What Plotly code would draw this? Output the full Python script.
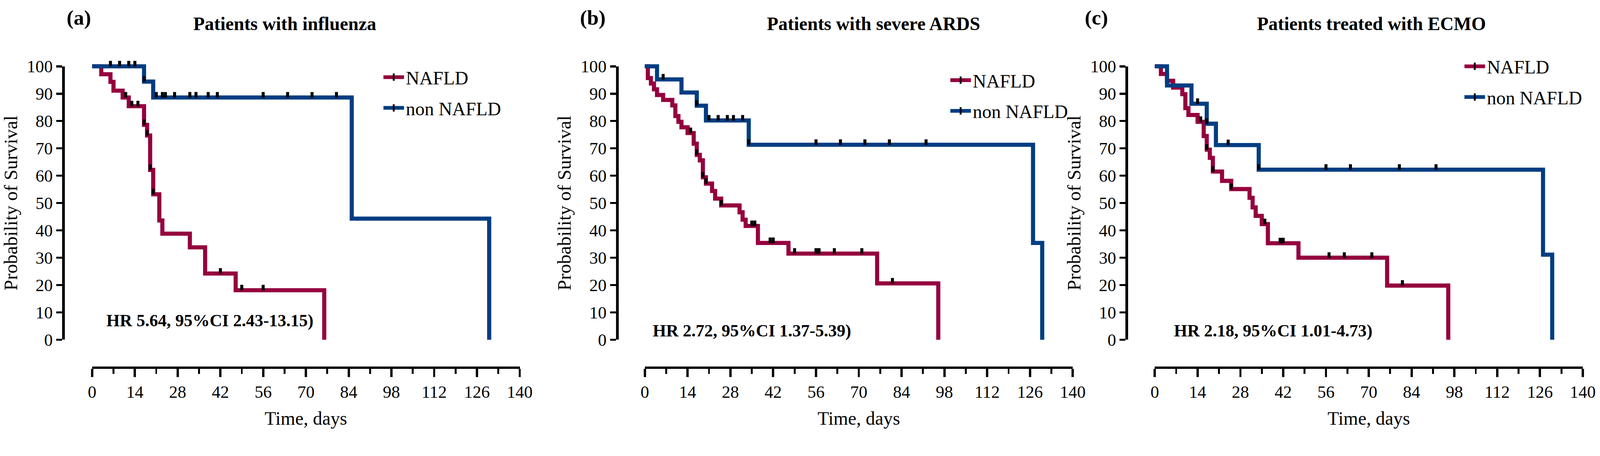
import plotly.graph_objects as go

W, H = 4273, 1167

# ---------------- data ----------------
X_TICKS = [0, 14, 28, 42, 56, 70, 84, 98, 112, 126, 140]
Y_TICKS = [0, 10, 20, 30, 40, 50, 60, 70, 80, 90, 100]
GROUPS = ["NAFLD", "non NAFLD"]
PANEL_LABELS = ["(a)", "(b)", "(c)"]
PANEL_TITLES = ["Patients with influenza", "Patients with severe ARDS", "Patients treated with ECMO"]
HR_TEXTS = ["HR 5.64, 95%CI 2.43-13.15)", "HR 2.72, 95%CI 1.37-5.39)", "HR 2.18, 95%CI 1.01-4.73)"]

# (a) influenza
A_NAFLD_T = [0, 3, 6, 7, 10, 12, 17, 18, 19, 20, 22, 23, 32, 37, 47, 76]
A_NAFLD_S = [100, 97.1, 94.3, 91.1, 88.6, 85.4, 78.6, 74.7, 62.1, 53.2, 43.6, 38.8, 33.8, 24.2, 18.1, 0]
A_NAFLD_C = [11, 13, 15, 17, 18, 19, 20, 42, 49, 56]
A_NON_T = [0, 17, 20, 85, 130]
A_NON_S = [100, 94.4, 88.6, 44.3, 0]
A_NON_C = [6, 9, 12, 14, 17, 21, 23, 24, 27, 32, 34, 38, 41, 56, 64, 72, 80]

# (b) severe ARDS
B_NAFLD_T = [0, 1, 2, 3, 4, 6, 9, 10, 11, 12, 14, 16, 17, 18, 19, 20, 22, 23, 25, 31, 32, 33, 37, 47, 76, 96]
B_NAFLD_S = [100, 95.7, 93.7, 91.6, 89.5, 87.7, 85.7, 81.8, 79.7, 77.7, 75.6, 71.7, 67.6, 65.6, 59.4, 57.1,
             54.4, 51.6, 49.1, 46.6, 43.9, 41.6, 35.4, 31.5, 20.6, 0]
B_NAFLD_C = [15, 17, 19, 20, 25, 35, 36, 41, 42, 49, 56, 57, 62, 71, 81]
B_NON_T = [0, 4, 12, 17, 20, 34, 127, 130]
B_NON_S = [100, 95.2, 90.4, 85.6, 80.2, 71.3, 35.4, 0]
B_NON_C = [6, 17, 21, 24, 27, 29, 32, 34, 56, 64, 72, 80, 92]

# (c) ECMO
C_NAFLD_T = [0, 2, 4, 6, 9, 10, 11, 14, 16, 17, 18, 19, 22, 25, 31, 32, 33, 35, 37, 47, 76, 96]
C_NAFLD_S = [100, 97.2, 94.7, 92.2, 89.8, 84.7, 82.2, 79.7, 74.5, 69.5, 66.5, 61.5, 58.1, 55.1, 51.9,
             48.4, 45.3, 42.3, 35.3, 30.0, 19.8, 0]
C_NAFLD_C = [15, 17, 19, 25, 36, 41, 42, 57, 62, 71, 81]
C_NON_T = [0, 4, 12, 17, 20, 34, 127, 130]
C_NON_S = [100, 93.0, 86.3, 79.0, 71.2, 62.2, 31.1, 0]
C_NON_C = [14, 17, 24, 34, 56, 64, 80, 92]

PANELS = [
    ((A_NAFLD_T, A_NAFLD_S, A_NAFLD_C), (A_NON_T, A_NON_S, A_NON_C)),
    ((B_NAFLD_T, B_NAFLD_S, B_NAFLD_C), (B_NON_T, B_NON_S, B_NON_C)),
    ((C_NAFLD_T, C_NAFLD_S, C_NAFLD_C), (C_NON_T, C_NON_S, C_NON_C)),
]

# ---------------- styling / geometry ----------------
COLORS = ["#95003E", "#003D82"]
FONT = "Liberation Serif"
Y0_PX, Y100_PX, XAXIS_PX = 907.0, 177.0, 982.0
PPU = (Y0_PX - Y100_PX) / 100.0
GEOM = [  # y-axis line px, x=0 px, x=140 px
    (169, 246, 1388),
    (1648, 1722, 2865),
    (3009, 3084, 4227),
]
LEGEND_POS = [(1019, 167), (2533, 175), (3906, 138)]
TITLE_X = [760, 2333, 3662]
LABEL_X = [210, 1583, 2928]
HR_POS = [(4.4, 7.1), (2.3, 3.4), (6.0, 3.4)]


def step_value(ts, ss, t):
    v = ss[0]
    for ti, si in zip(ts, ss):
        if ti <= t:
            v = si
    return v


fig = go.Figure()
layout = dict(
    width=W, height=H, autosize=False,
    margin=dict(l=0, r=0, t=0, b=0, pad=0, autoexpand=False),
    paper_bgcolor="white", plot_bgcolor="rgba(0,0,0,0)",
    font=dict(family=FONT, color="black"),
    showlegend=True, annotations=[],
)

censor_offset = 7.0 / PPU

for p, (groups, (yl, x0, x140)) in enumerate(zip(PANELS, GEOM)):
    k = p + 1
    kv = p + 4
    ppd = (x140 - x0) / 140.0
    # data subplot (hidden axes, extended so thick lines are not clipped)
    left_px, right_px = yl, x140 + 15
    top_px, bot_px = 160, 925
    layout[f"xaxis{k}"] = dict(
        domain=[left_px / W, right_px / W],
        range=[(left_px - x0) / ppd, (right_px - x0) / ppd],
        visible=False, anchor=f"y{k}", fixedrange=True, automargin=False)
    layout[f"yaxis{k}"] = dict(
        domain=[1 - bot_px / H, 1 - top_px / H],
        range=[(Y0_PX - bot_px) / PPU, (Y0_PX - top_px) / PPU],
        visible=False, anchor=f"x{k}", fixedrange=True, automargin=False)
    # visible axes
    layout[f"xaxis{kv}"] = dict(
        domain=[x0 / W, x140 / W], range=[0, 140], anchor="free", position=1 - XAXIS_PX / H,
        tickmode="array", tickvals=X_TICKS, ticktext=[str(v) for v in X_TICKS],
        showline=True, linecolor="black", linewidth=6, ticks="outside", ticklen=22, tickwidth=6,
        tickcolor="black", tickfont=dict(size=46, family=FONT), showgrid=False, zeroline=False,
        minor=dict(tickmode="linear", tick0=0, dtick=7, ticks="outside", ticklen=13, tickwidth=5,
                   tickcolor="black", showgrid=False),
        title=dict(text="Time, days", font=dict(size=50, family=FONT), standoff=27),
        fixedrange=True, automargin=False)
    layout[f"yaxis{kv}"] = dict(
        domain=[1 - Y0_PX / H, 1 - Y100_PX / H], range=[0, 100], anchor="free", position=yl / W,
        tickmode="array", tickvals=Y_TICKS, ticktext=[str(v) for v in Y_TICKS],
        showline=True, linecolor="black", linewidth=7, ticks="outside", ticklen=16, tickwidth=6,
        tickcolor="black", tickfont=dict(size=46, family=FONT), showgrid=False, zeroline=False,
        title=dict(text="Probability of Survival", font=dict(size=51, family=FONT), standoff=8),
        fixedrange=True, automargin=False)
    fig.add_trace(go.Scatter(x=[None], y=[None], xaxis=f"x{kv}", yaxis=f"y{kv}",
                             showlegend=False, hoverinfo="skip"))

    legname = "legend" if p == 0 else f"legend{k}"
    lx, ly = LEGEND_POS[p]
    layout[legname] = dict(
        x=lx / W, y=1 - ly / H, xanchor="left", yanchor="top",
        font=dict(size=50, family=FONT), bgcolor="rgba(0,0,0,0)",
        itemwidth=55, tracegroupgap=14, traceorder="grouped")

    for g, (ts, ss, cs) in enumerate(groups):
        col = COLORS[g]
        fig.add_trace(go.Scatter(
            x=ts, y=ss, mode="lines", line=dict(color=col, width=11, shape="hv"),
            xaxis=f"x{k}", yaxis=f"y{k}", showlegend=False, hoverinfo="skip"))
        cy = [step_value(ts, ss, t) + censor_offset for t in cs]
        fig.add_trace(go.Scatter(
            x=cs, y=cy, mode="markers",
            marker=dict(symbol="line-ns", size=10.7, color="black",
                        line=dict(color="black", width=8)),
            xaxis=f"x{k}", yaxis=f"y{k}", showlegend=False, hoverinfo="skip"))
        # legend entry
        fig.add_trace(go.Scatter(
            x=[None], y=[None], mode="lines+markers", name=GROUPS[g],
            line=dict(color=col, width=12),
            marker=dict(symbol="line-ns", size=14, color="black", line=dict(color="black", width=5)),
            xaxis=f"x{k}", yaxis=f"y{k}", legend=legname, legendgroup=f"{p}-{g}",
            hoverinfo="skip"))

    layout["annotations"].append(dict(
        text=f"<b>{PANEL_TITLES[p]}</b>", x=TITLE_X[p] / W, y=1 - 63 / H, xref="paper", yref="paper",
        xanchor="center", yanchor="middle", showarrow=False, font=dict(size=50, family=FONT)))
    layout["annotations"].append(dict(
        text=f"<b>{PANEL_LABELS[p]}</b>", x=LABEL_X[p] / W, y=1 - 48 / H, xref="paper", yref="paper",
        xanchor="center", yanchor="middle", showarrow=False, font=dict(size=56, family=FONT)))
    hx, hy = HR_POS[p]
    layout["annotations"].append(dict(
        text=f"<b>{HR_TEXTS[p]}</b>", x=hx, y=hy, xref=f"x{kv}", yref=f"y{kv}",
        xanchor="left", yanchor="middle", showarrow=False, font=dict(size=46, family=FONT)))

fig.update_layout(**layout)

# scale the whole 4273x1167 figure uniformly so it fits the browser's real viewport width
FIT_JS = (
    "document.documentElement.style.margin='0';"
    "document.documentElement.style.overflow='hidden';"
    "document.body.style.margin='0';"
    "document.body.style.overflow='hidden';"
    "var gd=document.getElementById('{plot_id}');"
    "var f=window.innerWidth/" + str(W) + ";"
    "if(f>0 && Math.abs(f-1)>0.0005){gd.style.transformOrigin='0 0';"
    "gd.style.transform='scale('+f+')';}"
)
fig.write_html("out.html", include_plotlyjs=True, full_html=True,
               config={"displayModeBar": False}, post_script=FIT_JS)
